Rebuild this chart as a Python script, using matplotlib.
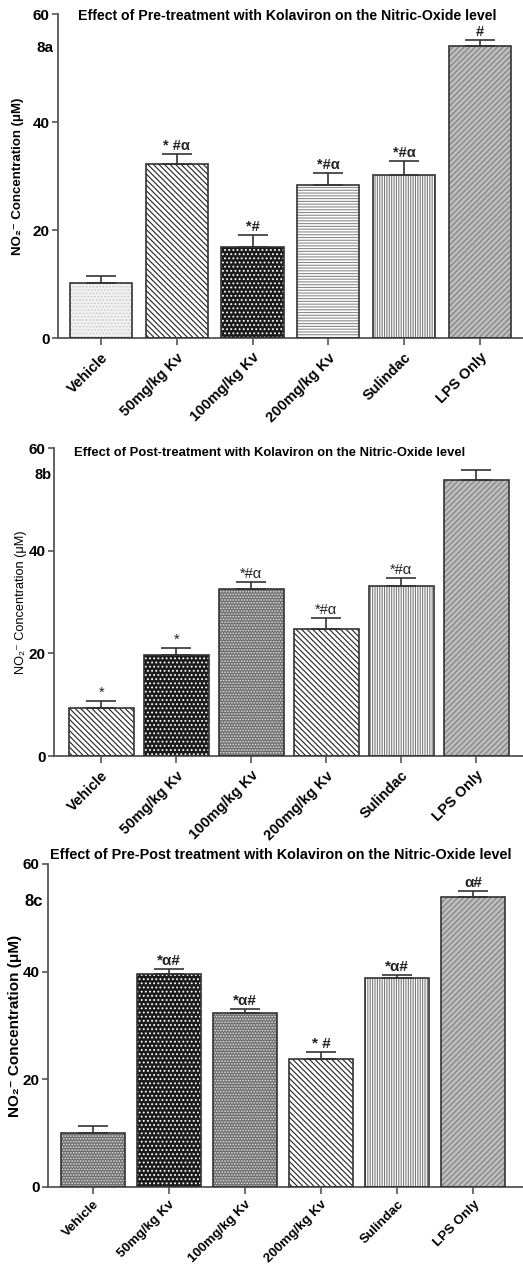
import matplotlib
matplotlib.use("Agg")
import matplotlib.pyplot as plt

plt.rcParams['font.family'] = ['Liberation Sans', 'DejaVu Sans']
plt.rcParams['hatch.linewidth'] = 0.8

groups = ['Vehicle', '50mg/kg Kv', '100mg/kg Kv', '200mg/kg Kv', 'Sulindac', 'LPS Only']

# 8a: pre-treatment
pre_mean = [10.1, 32.2, 16.9, 28.3, 30.1, 54.1]
pre_err = [1.3, 1.9, 2.2, 2.3, 2.7, 1.0]
pre_sig = ['', '* #α', '*#', '*#α', '*#α', '#']

# 8b: post-treatment
post_mean = [9.3, 19.7, 32.6, 24.7, 33.1, 53.8]
post_err = [1.4, 1.4, 1.2, 2.2, 1.6, 2.0]
post_sig = ['*', '*', '*#α', '*#α', '*#α', '']

# 8c: pre-post treatment
prepost_mean = [10.0, 39.6, 32.3, 23.7, 38.8, 53.9]
prepost_err = [1.4, 0.9, 0.7, 1.4, 0.6, 1.0]
prepost_sig = ['', '*α#', '*α#', '* #', '*α#', 'α#']

yticks = [0, 20, 40, 60]

# fill styles: (face colour, hatch, hatch colour)
light_dots = ('#f2f2f2', '.....', '#c8c8c8')
back_diag = ('white', '\\\\\\\\\\\\', '#222222')
dark_dots = ('#1c1c1c', '....', 'white')
grey_check = ('#6e6e6e', '......', '#e0e0e0')
horiz = ('white', '------', '#8a8a8a')
vert = ('white', '|||||||', '#7a7a7a')
lps_fill = ('#bdbdbd', '//////', '#7f7f7f')

W, H = 523, 1268
fig = plt.figure(figsize=(W / 100, H / 100), dpi=100)


def draw_panel(left, top, bottom, xlim, width, means, errs, sigs, styles,
               title, title_xy, title_size, tag, tag_xy, tag_size, ylab_size, ylab_weight,
               ylab_x, sig_weight, sig_size, xlab_size=10.5, xlab_pad=4):
    ax = fig.add_axes([left / W, 1 - bottom / H, (W + 2 - left) / W, (bottom - top) / H])
    x = list(range(len(groups)))
    for i, (m, st) in enumerate(zip(means, styles)):
        face, hatch, hcol = st
        ax.bar(i, m, width=width, color=face, hatch=hatch, edgecolor=hcol, linewidth=0, zorder=2)
        ax.bar(i, m, width=width, fill=False, edgecolor='#333333', linewidth=1.2, zorder=3)
    ax.errorbar(x, means, yerr=[[0] * len(means), errs], fmt='none', ecolor='#333333',
                elinewidth=1.2, capsize=11, capthick=1.2, zorder=4)
    for i in x:
        if sigs[i]:
            ax.text(i, means[i] + errs[i] + 0.2, sigs[i], ha='center', va='bottom',
                    fontsize=sig_size, fontweight=sig_weight, color='#222222')
    ax.set_xlim(*xlim)
    ax.set_ylim(0, 60)
    ax.set_yticks(yticks)
    ax.set_yticklabels([str(v) for v in yticks], fontsize=11, fontweight='bold')
    ax.set_xticks(x)
    ax.set_xticklabels(groups, rotation=45, ha='right', rotation_mode='anchor',
                       fontsize=xlab_size, fontweight='bold')
    for s in ['top', 'right']:
        ax.spines[s].set_visible(False)
    for s in ['left', 'bottom']:
        ax.spines[s].set_color('#555555')
        ax.spines[s].set_linewidth(1.3)
    ax.tick_params(axis='both', color='#555555', width=1.2, length=4, pad=2)
    ax.tick_params(axis='x', length=5, pad=xlab_pad)
    fig.text(title_xy[0] / W, 1 - title_xy[1] / H, title, ha='center', va='center',
             fontsize=title_size, fontweight='bold')
    fig.text(tag_xy[0] / W, 1 - tag_xy[1] / H, tag, ha='center', va='center',
             fontsize=tag_size, fontweight='bold')
    ax.set_ylabel('NO₂⁻ Concentration (μM)', fontsize=ylab_size, fontweight=ylab_weight)
    ax.yaxis.set_label_coords(ylab_x, 0.5)
    return ax


draw_panel(58, 14, 338, (-0.57, 5.6), 0.82, pre_mean, pre_err, pre_sig,
           [light_dots, back_diag, dark_dots, horiz, vert, lps_fill],
           'Effect of Pre-treatment with Kolaviron on the Nitric-Oxide level', (287, 16), 10.2,
           '8a', (45, 48), 11, 9.5, 'bold', -0.072, 'bold', 10.5)

draw_panel(54, 448, 756, (-0.63, 5.65), 0.87, post_mean, post_err, post_sig,
           [back_diag, dark_dots, grey_check, back_diag, vert, lps_fill],
           'Effect of Post-treatment with Kolaviron on the Nitric-Oxide level', (270, 453), 9.4,
           '8b', (43, 475), 10.5, 9.2, 'normal', -0.058, 'normal', 10.5)

draw_panel(48, 864, 1187, (-0.59, 5.68), 0.84, prepost_mean, prepost_err, prepost_sig,
           [grey_check, dark_dots, grey_check, back_diag, vert, lps_fill],
           'Effect of Pre-Post treatment with Kolaviron on the Nitric-Oxide level', (281, 855), 10.4,
           '8c', (34, 902), 12, 11, 'bold', -0.055, 'bold', 11, xlab_size=9.6, xlab_pad=3)

fig.savefig('out.png', dpi=100)
